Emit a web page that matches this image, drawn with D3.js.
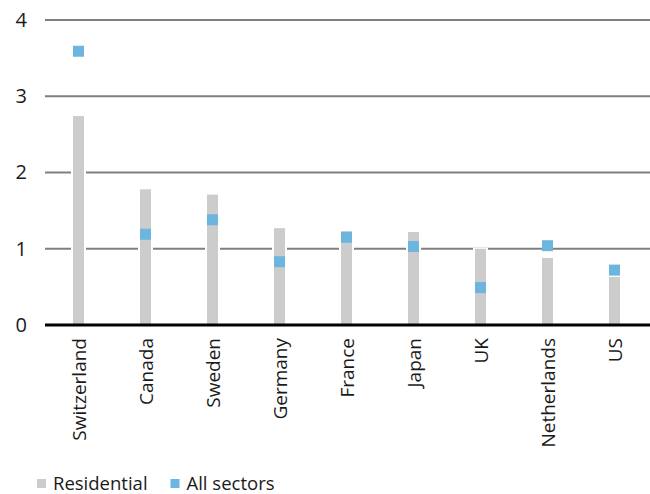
<!DOCTYPE html>
<html lang="en">
<head>
    <meta charset="UTF-8">
    <title>Residential vs all sectors</title>
    <script src="https://cdnjs.cloudflare.com/ajax/libs/d3/7.8.5/d3.min.js"></script>
    <style>
        body { margin: 0; background: #fff; }
        text { font-family: "Open Sans", "Noto Sans", sans-serif; fill: #1a1a1a; }
    </style>
</head>
<body>
    <div id="wrapper"></div>
    <script>
        const countries = ['Switzerland', 'Canada', 'Sweden', 'Germany', 'France', 'Japan', 'UK', 'Netherlands', 'US']
        const residential = [2.74, 1.78, 1.71, 1.27, 1.23, 1.22, 1.0, 0.88, 0.63]
        const allSectors = [3.59, 1.19, 1.38, 0.83, 1.15, 1.03, 0.49, 1.04, 0.72]
        const yTicks = [0, 1, 2, 3, 4]

        const dimensions = {
            width: 650,
            height: 494,
            margin: { top: 20, right: 2, bottom: 169, left: 45 }
        }
        dimensions.boundedWidth = dimensions.width - dimensions.margin.left - dimensions.margin.right
        dimensions.boundedHeight = dimensions.height - dimensions.margin.top - dimensions.margin.bottom

        const svg = d3.select('#wrapper')
            .append('svg')
                .attr('width', dimensions.width)
                .attr('height', dimensions.height)

        const bounds = svg.append('g')
            .attr('transform', `translate(${dimensions.margin.left}, ${dimensions.margin.top})`)

        const xScale = d3.scaleBand()
            .domain(countries)
            .range([0, dimensions.boundedWidth])

        const yScale = d3.scaleLinear()
            .domain([0, 4])
            .range([dimensions.boundedHeight, 0])

        // gridlines run all the way to the right edge
        const gridRight = dimensions.width - dimensions.margin.left
        bounds.append('g')
            .selectAll('line')
            .data(yTicks.filter(d => d > 0))
            .join('line')
                .attr('x1', 0)
                .attr('x2', gridRight)
                .attr('y1', d => yScale(d))
                .attr('y2', d => yScale(d))
                .attr('stroke', '#7f7f7f')
                .attr('stroke-width', 2)

        const rows = countries.map((c, i) => ({ country: c, res: residential[i], all: allSectors[i] }))
        const barWidth = 11
        const cx = d => xScale(d.country) + xScale.bandwidth() / 2

        // white halo behind bars cuts the gridlines
        bounds.append('g')
            .selectAll('rect')
            .data(rows)
            .join('rect')
                .attr('x', d => cx(d) - barWidth / 2 - 2)
                .attr('y', d => yScale(d.res) - 1)
                .attr('width', barWidth + 4)
                .attr('height', d => dimensions.boundedHeight - yScale(d.res) + 1)
                .attr('fill', '#fff')

        bounds.append('g')
            .selectAll('rect')
            .data(rows)
            .join('rect')
                .attr('x', d => cx(d) - barWidth / 2)
                .attr('y', d => yScale(d.res))
                .attr('width', barWidth)
                .attr('height', d => dimensions.boundedHeight - yScale(d.res))
                .attr('fill', '#cccccc')

        const markerSize = 11
        bounds.append('g')
            .selectAll('rect')
            .data(rows)
            .join('rect')
                .attr('x', d => cx(d) - markerSize / 2)
                .attr('y', d => yScale(d.all) - markerSize / 2)
                .attr('width', markerSize)
                .attr('height', markerSize)
                .attr('fill', '#6cb5df')

        // zero line
        bounds.append('line')
            .attr('x1', 0)
            .attr('x2', gridRight)
            .attr('y1', yScale(0))
            .attr('y2', yScale(0))
            .attr('stroke', '#000')
            .attr('stroke-width', 3)

        const yAxis = bounds.append('g')
            .call(d3.axisLeft(yScale).tickValues(yTicks).tickFormat(d3.format('d')).tickSize(0).tickPadding(18))
        yAxis.select('.domain').remove()
        yAxis.selectAll('text')
            .style('font-size', '20px')
            .style('font-family', '"Open Sans", "Noto Sans", sans-serif')
            .attr('fill', '#1a1a1a')

        const xAxis = bounds.append('g')
            .attr('transform', `translate(0, ${dimensions.boundedHeight})`)
            .call(d3.axisBottom(xScale).tickSize(0))
        xAxis.select('.domain').remove()
        xAxis.selectAll('text')
            .attr('transform', 'rotate(-90)')
            .attr('x', -13)
            .attr('y', 0)
            .attr('dy', '0.42em')
            .attr('text-anchor', 'end')
            .style('font-size', '19px')
            .style('font-family', '"Open Sans", "Noto Sans", sans-serif')
            .attr('fill', '#1a1a1a')

        // legend
        const legend = svg.append('g')
            .attr('transform', 'translate(37, 490)')
        const legendItems = [
            { label: 'Residential', color: '#cccccc', x: 0 },
            { label: 'All sectors', color: '#6cb5df', x: 133.5 }
        ]
        const item = legend.selectAll('g')
            .data(legendItems)
            .join('g')
                .attr('transform', d => `translate(${d.x}, 0)`)
        item.append('rect')
            .attr('x', 0)
            .attr('y', -11)
            .attr('width', 9)
            .attr('height', 9)
            .attr('fill', d => d.color)
        item.append('text')
            .attr('x', 16)
            .attr('y', 0)
            .style('font-size', '18.5px')
            .text(d => d.label)
    </script>
</body>
</html>
